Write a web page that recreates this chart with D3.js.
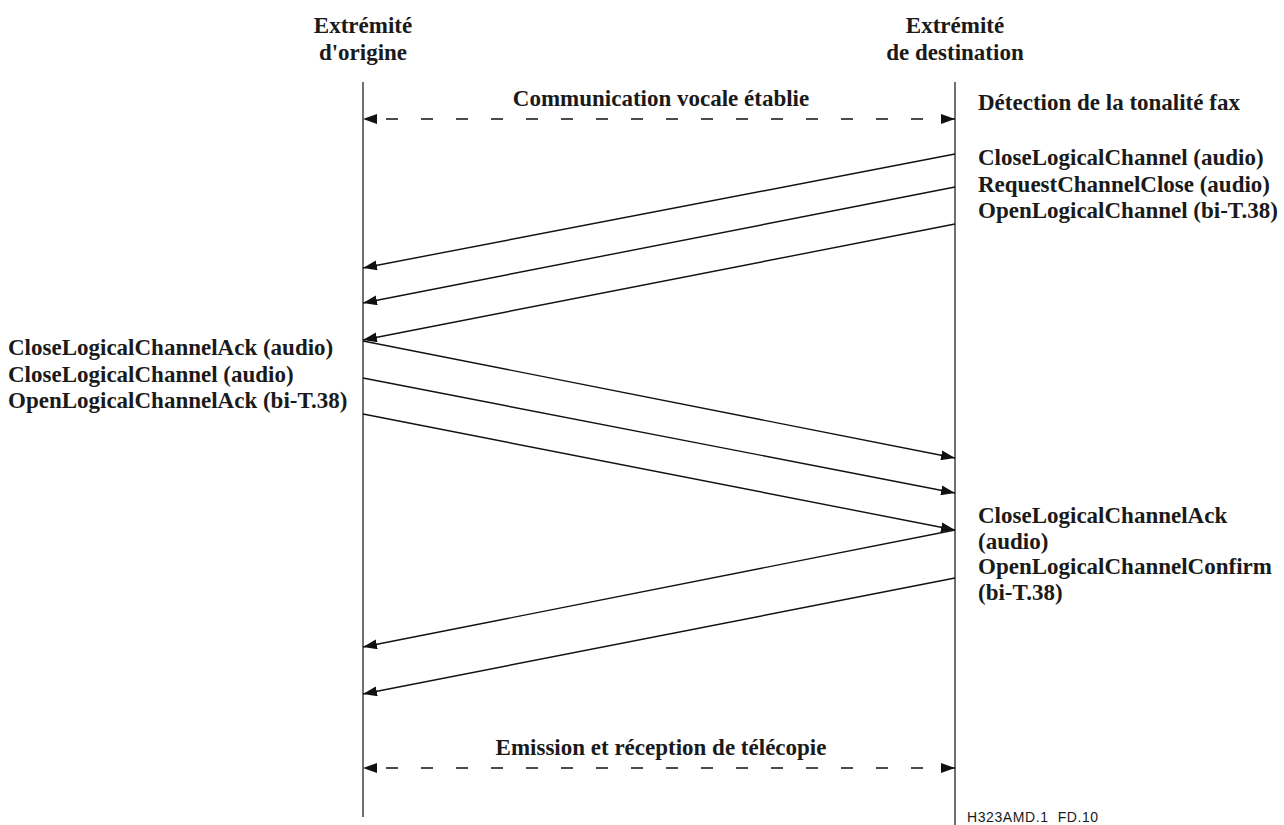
<!DOCTYPE html>
<html>
<head>
<meta charset="utf-8">
<script src="https://cdn.jsdelivr.net/npm/d3@7"></script>
<style>
  body { margin: 0; background: #fff; }
  svg text { font-family: "Liberation Serif", "Times New Roman", serif; font-weight: bold; fill: #1a1a1a; }
</style>
</head>
<body>
<svg width="1284" height="825"></svg>
<script>
// lanes (the two endpoints)
const lanes = ['orig', 'dest'];
const laneTitles = [['Extrémité', "d'origine"], ['Extrémité', 'de destination']];

// messages: start lane, start time, arrival time (time read in diagram units)
const msgFrom = ['dest', 'dest', 'dest', 'orig', 'orig', 'orig', 'dest', 'dest'];
const msgT0 = [154, 187, 224, 341, 378, 414, 530, 578];
const msgT1 = [268, 303, 340, 458, 493, 530, 647, 694];

// dashed two-way phases
const phaseText = ['Communication vocale établie', 'Emission et réception de télécopie'];
const phaseT = [119, 768];

// text blocks next to the lanes
const noteDest = ['Détection de la tonalité fax'];
const blockDest1 = ['CloseLogicalChannel (audio)', 'RequestChannelClose (audio)', 'OpenLogicalChannel (bi-T.38)'];
const blockOrig = ['CloseLogicalChannelAck (audio)', 'CloseLogicalChannel (audio)', 'OpenLogicalChannelAck (bi-T.38)'];
const blockDest2 = ['CloseLogicalChannelAck', '(audio)', 'OpenLogicalChannelConfirm', '(bi-T.38)'];

const svg = d3.select('svg');

const x = d3.scalePoint().domain(lanes).range([363, 955]);
const y = d3.scaleLinear().domain([0, 825]).range([0, 825]);

// arrow heads
const defs = svg.append('defs');
defs.append('marker')
    .attr('id', 'head')
    .attr('viewBox', '0 0 14 10')
    .attr('refX', 14).attr('refY', 5)
    .attr('markerWidth', 14).attr('markerHeight', 10)
    .attr('markerUnits', 'userSpaceOnUse')
    .attr('orient', 'auto-start-reverse')
    .append('path').attr('d', 'M0,0 L14,5 L0,10 Z').attr('fill', '#111');

// lane titles
lanes.forEach((l, i) => {
  svg.append('text').attr('x', x(l)).attr('y', 33).attr('text-anchor', 'middle')
     .style('font-size', '23px').text(laneTitles[i][0]);
  svg.append('text').attr('x', x(l)).attr('y', 60).attr('text-anchor', 'middle')
     .style('font-size', '23px').text(laneTitles[i][1]);
});

// lifelines
svg.append('line').attr('x1', x('orig')).attr('x2', x('orig')).attr('y1', y(82)).attr('y2', y(817))
   .attr('stroke', '#333').attr('stroke-width', 1.4);
svg.append('line').attr('x1', x('dest')).attr('x2', x('dest')).attr('y1', y(82)).attr('y2', y(825))
   .attr('stroke', '#333').attr('stroke-width', 1.4);

// messages
const other = l => l === 'orig' ? 'dest' : 'orig';
svg.selectAll('.msg')
  .data(msgFrom.map((f, i) => ({from: f, t0: msgT0[i], t1: msgT1[i]})))
  .enter()
  .append('line')
  .classed('msg', true)
  .attr('x1', d => x(d.from))
  .attr('y1', d => y(d.t0))
  .attr('x2', d => x(other(d.from)))
  .attr('y2', d => y(d.t1))
  .attr('stroke', '#111')
  .attr('stroke-width', 1.4)
  .attr('marker-end', 'url(#head)');

// dashed phases
svg.selectAll('.phase')
  .data(phaseT)
  .enter()
  .append('line')
  .classed('phase', true)
  .attr('x1', x('orig')).attr('x2', x('dest'))
  .attr('y1', d => y(d)).attr('y2', d => y(d))
  .attr('stroke', '#111').attr('stroke-width', 1.4)
  .attr('stroke-dasharray', '12,23')
  .attr('stroke-dashoffset', -23)
  .attr('marker-start', 'url(#head)')
  .attr('marker-end', 'url(#head)');

svg.selectAll('.phaseLabel')
  .data(phaseText)
  .enter()
  .append('text')
  .attr('x', (x('orig') + x('dest')) / 2 + 2)
  .attr('y', (d, i) => y(phaseT[i]) - 13)
  .attr('text-anchor', 'middle')
  .style('font-size', '23px')
  .text(d => d);

// text blocks
function block(lines, xpos, y0, step) {
  svg.selectAll(null)
    .data(lines)
    .enter()
    .append('text')
    .attr('x', xpos)
    .attr('y', (d, i) => y(y0 + i * step))
    .style('font-size', '23px')
    .text(d => d);
}
block(noteDest, 978, 110, 0);
block(blockDest1, 978, 165, 26.5);
block(blockOrig, 8, 355, 26.5);
block(blockDest2, 978, 523, 25.7);

// figure reference
svg.append('text').attr('x', 967).attr('y', 822)
   .style('font-family', '"Liberation Sans", Arial, sans-serif')
   .style('font-weight', 'normal')
   .style('font-size', '14px')
   .style('letter-spacing', '0.6px')
   .style('white-space', 'pre')
   .text('H323AMD.1  FD.10');
</script>
</body>
</html>
